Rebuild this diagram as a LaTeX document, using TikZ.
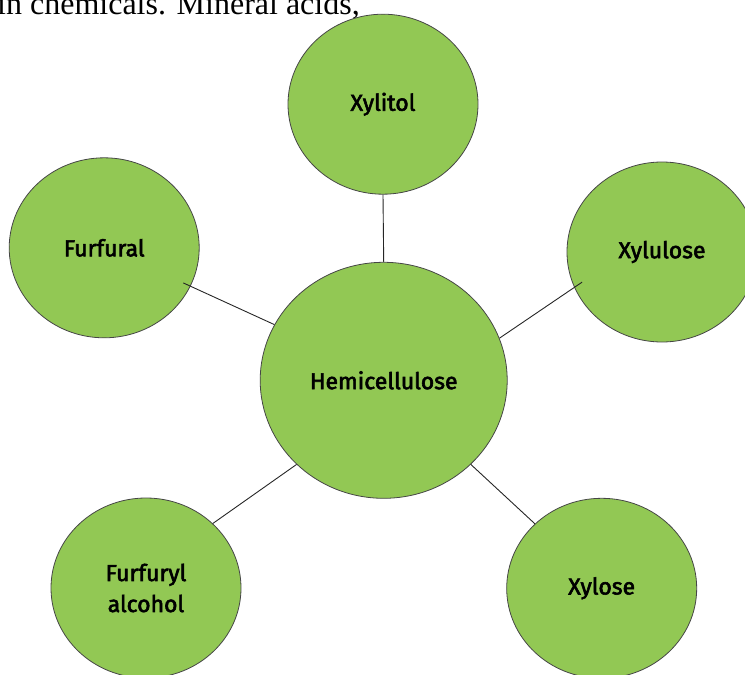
\documentclass[tikz,border=0pt]{standalone}
\usepackage{fontspec}
\setmainfont{Fira Sans}
\newfontfamily\labelfont{Fira Sans}[FakeBold=2.5]
\newfontfamily\bodyfont{Liberation Serif}
\usetikzlibrary{shapes.geometric,positioning,calc}
\definecolor{leafgreen}{RGB}{146,200,84}
\definecolor{rimgray}{RGB}{70,70,70}

\begin{document}
\begin{tikzpicture}[x=1pt,y=-1pt,
    bubble/.style={ellipse, draw=rimgray, line width=0.8pt, fill=leafgreen, inner sep=0pt,
        minimum width=190pt, minimum height=180pt, align=center,
        font=\labelfont\fontsize{23}{31}\selectfont},
    link/.style={draw=black!85, line width=0.9pt}]
    \useasboundingbox (0,0) rectangle (745,675);
    \clip (0,0) rectangle (745,675);
    \node[anchor=base west, font=\bodyfont\fontsize{32}{34}\selectfont, inner sep=0pt] (topline) at (-3,14) {in chemicals. Mineral acids,};
    \node[bubble, minimum width=247pt, minimum height=236pt] (hemi) at (383.7,380.3) {Hemicellulose};
    \node[bubble] (xylitol) at (383,104.2) {Xylitol};
    \node[bubble] (furfural) at (104.2,247.8) {Furfural};
    \node[bubble] (xylulose) at (662,252) {Xylulose};
    \node[bubble] (xylose) at (601.7,588.3) {Xylose};
    \node[bubble] (furfuryl) at (146,588) {Furfuryl\\alcohol};
    \draw[link] (xylitol.270) -- (hemi.90);
    \draw[link, shorten >=-8pt] (hemi.153) -- (furfural.336);
    \draw[link, shorten >=-9.5pt] (hemi.20) -- (xylulose.202.5);
    \draw[link] (hemi.316) -- (xylose.136);
    \draw[link] (hemi.224) -- (furfuryl.44);
\end{tikzpicture}
\end{document}
